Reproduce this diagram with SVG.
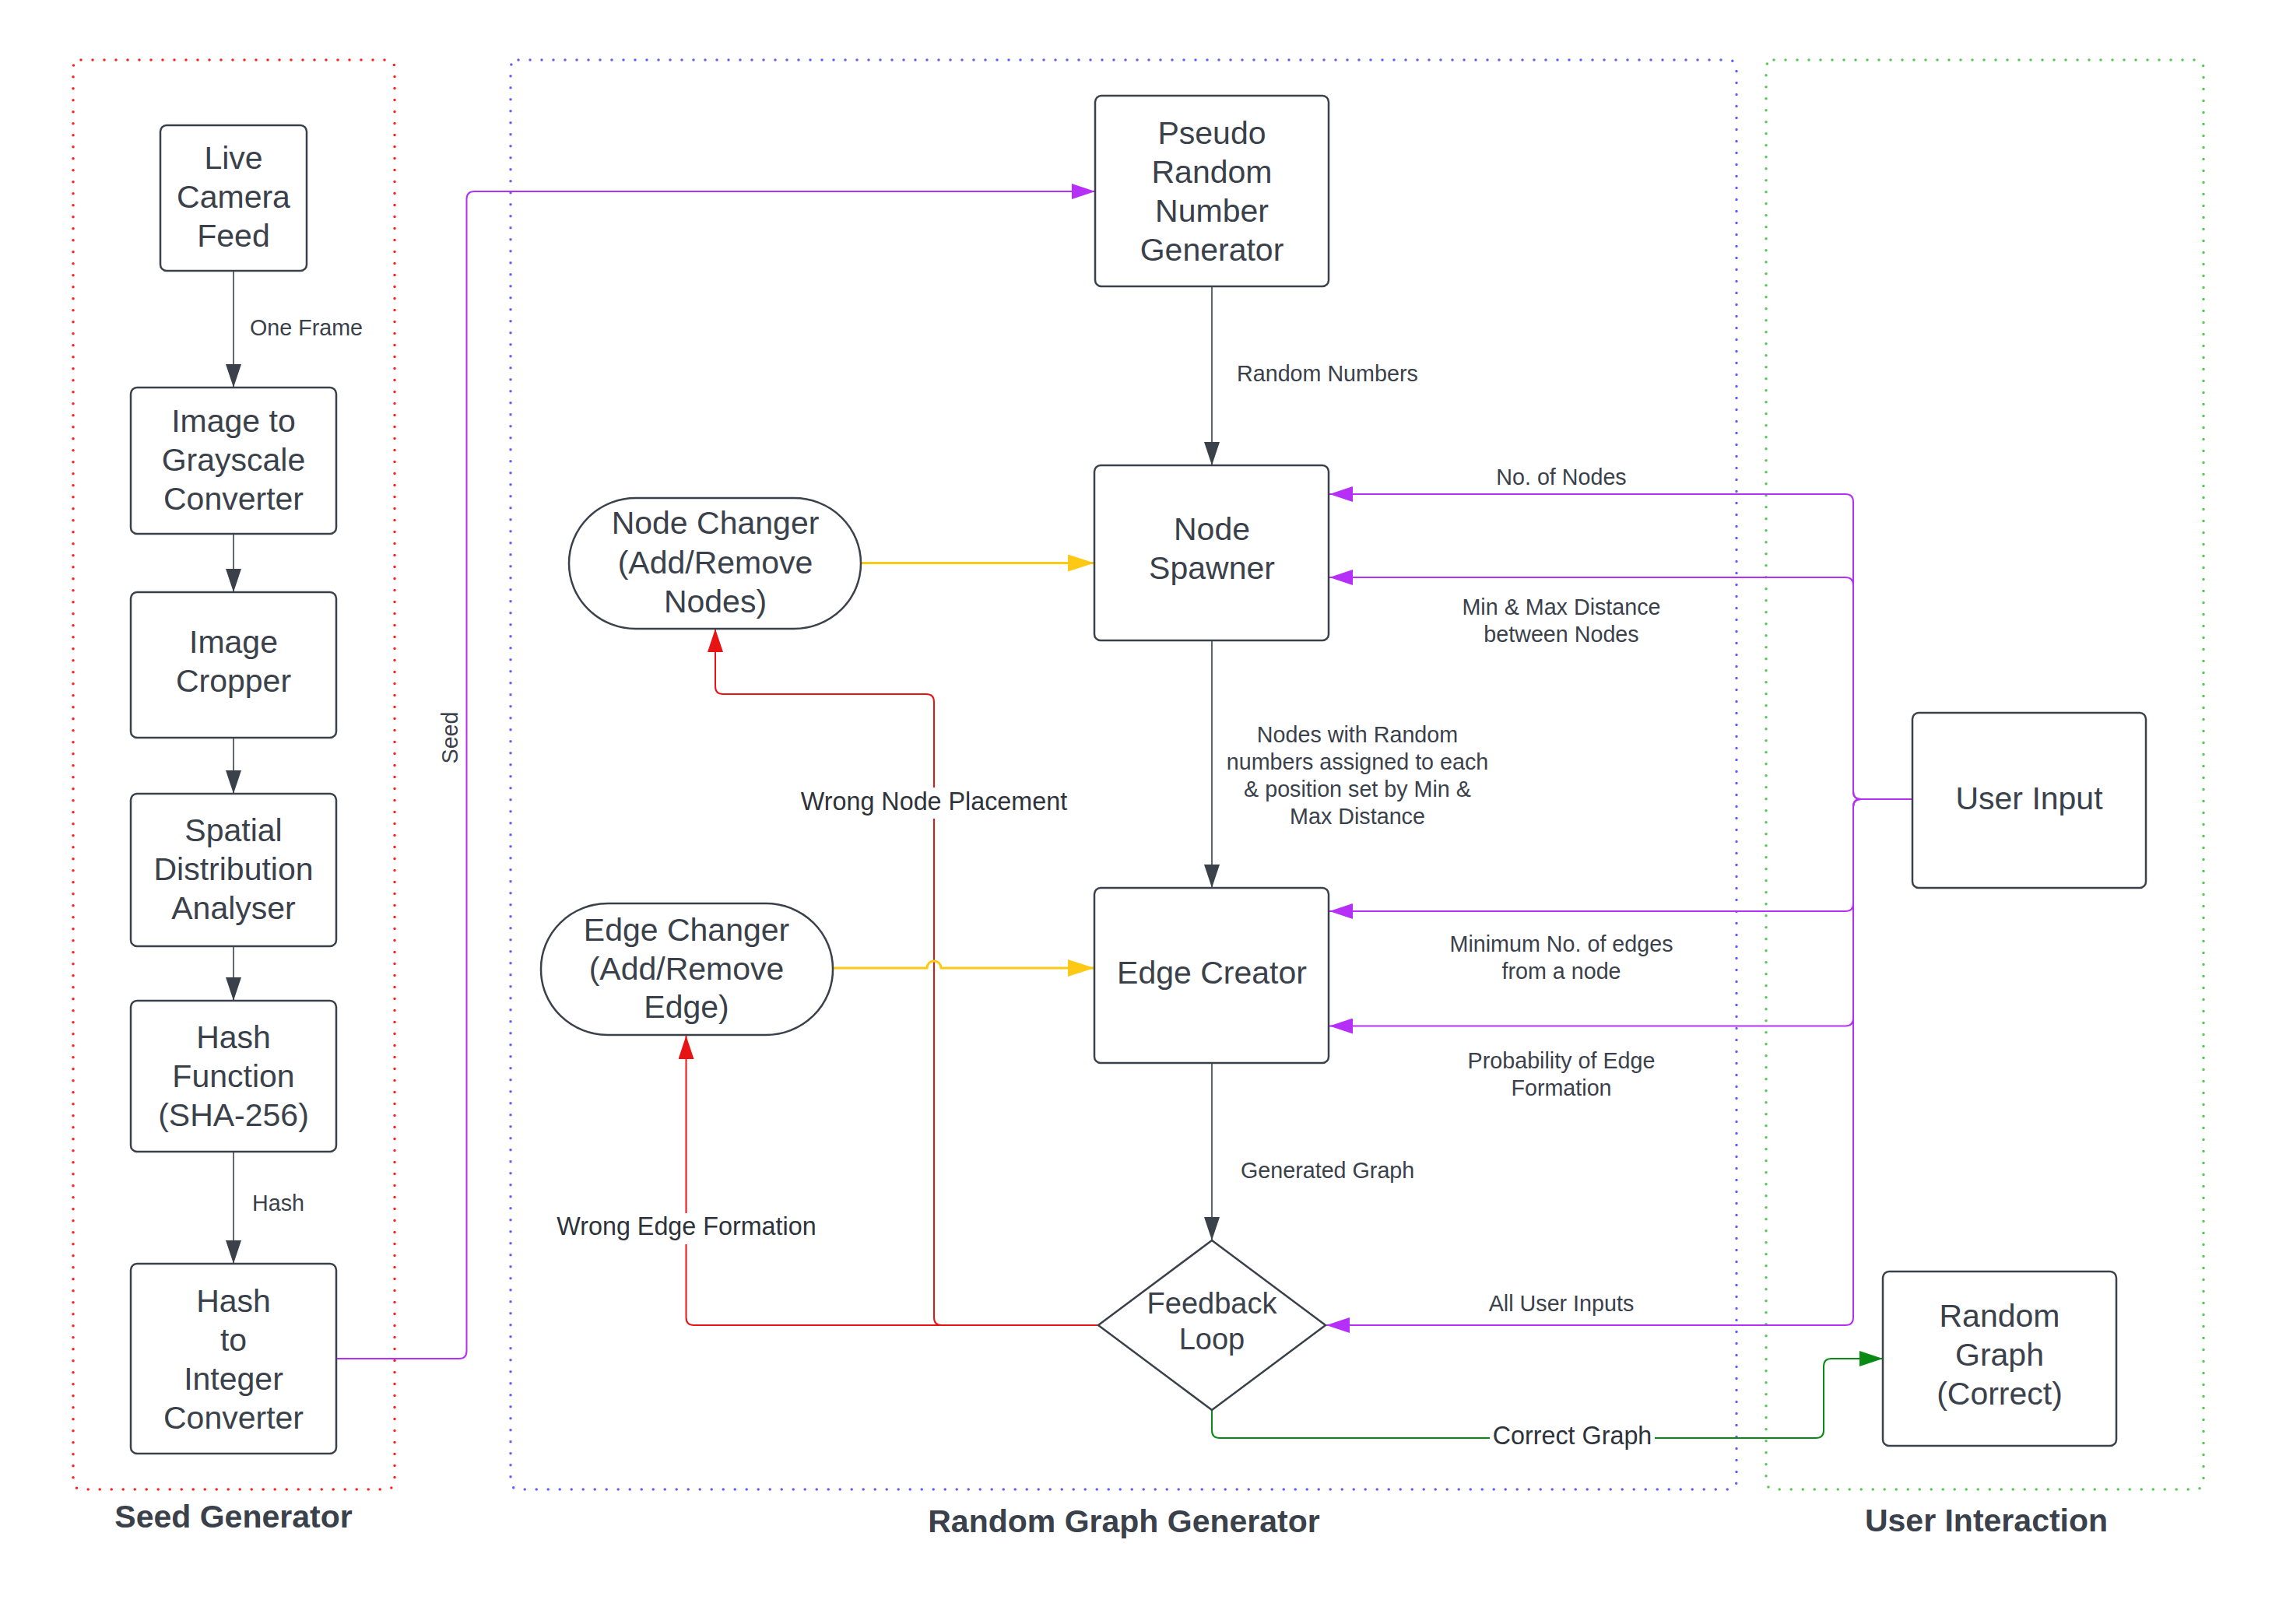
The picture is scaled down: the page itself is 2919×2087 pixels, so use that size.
<svg xmlns="http://www.w3.org/2000/svg" width="2919" height="2087" viewBox="0 0 2919 2087">
<defs>
<style>
.box{fill:#fff;stroke:#3a414a;stroke-width:2.5}
.t{font-family:"Liberation Sans",Arial,sans-serif;font-size:41px;fill:#3a414a;text-anchor:middle}
.l{font-family:"Liberation Sans",Arial,sans-serif;font-size:28.7px;fill:#3a414a}
.lm{font-family:"Liberation Sans",Arial,sans-serif;font-size:28.7px;fill:#3a414a;text-anchor:middle}
.lb{font-family:"Liberation Sans",Arial,sans-serif;font-size:32.3px;fill:#2e333a;text-anchor:middle}
.g{font-family:"Liberation Sans",Arial,sans-serif;font-size:41px;font-weight:bold;fill:#3a414a;text-anchor:middle}
.dark{fill:none;stroke:#3a414a;stroke-width:1.6}
.pur{fill:none;stroke:#b62ff8;stroke-width:2}
.red{fill:none;stroke:#e81414;stroke-width:2}
.yel{fill:none;stroke:#fdc914;stroke-width:3}
.grn{fill:none;stroke:#0a8a14;stroke-width:2}
.dot{fill:none;stroke-width:3.5;stroke-linecap:round;stroke-dasharray:0 15}
</style>
<marker id="aDark" markerWidth="30" markerHeight="20" refX="30" refY="10" orient="auto" markerUnits="userSpaceOnUse"><path d="M0,0 L30,10 L0,20 Z" fill="#3a414a"/></marker>
<marker id="aPur" markerWidth="30" markerHeight="20" refX="30" refY="10" orient="auto" markerUnits="userSpaceOnUse"><path d="M0,0 L30,10 L0,20 Z" fill="#b62ff8"/></marker>
<marker id="aRed" markerWidth="30" markerHeight="20" refX="30" refY="10" orient="auto" markerUnits="userSpaceOnUse"><path d="M0,0 L30,10 L0,20 Z" fill="#e81414"/></marker>
<marker id="aYel" markerWidth="34" markerHeight="22" refX="34" refY="11" orient="auto" markerUnits="userSpaceOnUse"><path d="M0,0 L34,11 L0,22 Z" fill="#fdc914"/></marker>
<marker id="aGrn" markerWidth="30" markerHeight="20" refX="30" refY="10" orient="auto" markerUnits="userSpaceOnUse"><path d="M0,0 L30,10 L0,20 Z" fill="#0a8a14"/></marker>
</defs>
<rect width="2919" height="2087" fill="#fff"/>

<g id="groups">
<rect x="94" y="77" width="413" height="1837" rx="10" class="dot" stroke="#ff2020"/>
<rect x="656" y="77" width="1575" height="1837" rx="10" class="dot" stroke="#6060ff"/>
<rect x="2269" y="77" width="562" height="1837" rx="10" class="dot" stroke="#55c855"/>
<text class="g" x="300" y="1963">Seed Generator</text>
<text class="g" x="1444" y="1969">Random Graph Generator</text>
<text class="g" x="2552" y="1968">User Interaction</text>
</g>

<g id="connectors">
<path class="dark" d="M300,348 V498" marker-end="url(#aDark)"/>
<path class="dark" d="M300,686 V761" marker-end="url(#aDark)"/>
<path class="dark" d="M300,948 V1020" marker-end="url(#aDark)"/>
<path class="dark" d="M300,1216 V1286" marker-end="url(#aDark)"/>
<path class="dark" d="M300,1480 V1624" marker-end="url(#aDark)"/>
<text class="l" x="321" y="431">One Frame</text>
<text class="l" x="324" y="1556">Hash</text>

<path class="pur" d="M432,1746 H590 Q599.5,1746 599.5,1736 V256 Q599.5,246 609.5,246 H1407" marker-end="url(#aPur)"/>
<text class="lm" transform="translate(588,948) rotate(-90)">Seed</text>

<path class="dark" d="M1557,368 V598" marker-end="url(#aDark)"/>
<text class="l" x="1589" y="490">Random Numbers</text>
<path class="dark" d="M1557,823 V1141" marker-end="url(#aDark)"/>
<text class="lm" x="1744" y="954">Nodes with Random</text>
<text class="lm" x="1744" y="989">numbers assigned to each</text>
<text class="lm" x="1744" y="1024">&amp; position set by Min &amp;</text>
<text class="lm" x="1744" y="1059">Max Distance</text>
<path class="dark" d="M1557,1366 V1594" marker-end="url(#aDark)"/>
<text class="l" x="1594" y="1514">Generated Graph</text>

<path class="yel" d="M1106,723.5 H1406" marker-end="url(#aYel)"/>

<path class="red" d="M1411,1703 H1210 Q1200,1703 1200,1693 V902 Q1200,892 1190,892 H929 Q919,892 919,882 V808" marker-end="url(#aRed)"/>
<path class="red" d="M1411,1703 H891.5 Q881.5,1703 881.5,1693 V1331" marker-end="url(#aRed)"/>
<path class="yel" d="M1070,1244 H1191 A9,9 0 0 1 1209,1244 H1406" marker-end="url(#aYel)"/>
<rect x="1022" y="1012" width="356" height="40" fill="#fff"/>
<text class="lb" x="1200" y="1041">Wrong Node Placement</text>
<rect x="708" y="1559" width="348" height="40" fill="#fff"/>
<text class="lb" x="882" y="1587">Wrong Edge Formation</text>

<path class="pur" d="M2457,1027 H2391 Q2381,1027 2381,1017 V645 Q2381,635 2371,635 H1708" marker-end="url(#aPur)"/>
<path class="pur" d="M2457,1027 H2391 Q2381,1027 2381,1017 V752 Q2381,742 2371,742 H1708" marker-end="url(#aPur)"/>
<path class="pur" d="M2457,1027 H2391 Q2381,1027 2381,1037 V1161 Q2381,1171 2371,1171 H1708" marker-end="url(#aPur)"/>
<path class="pur" d="M2457,1027 H2391 Q2381,1027 2381,1037 V1308.5 Q2381,1318.5 2371,1318.5 H1708" marker-end="url(#aPur)"/>
<path class="pur" d="M2457,1027 H2391 Q2381,1027 2381,1037 V1693 Q2381,1703 2371,1703 H1704" marker-end="url(#aPur)"/>
<text class="lm" x="2006" y="623">No. of Nodes</text>
<text class="lm" x="2006" y="790">Min &amp; Max Distance</text>
<text class="lm" x="2006" y="825">between Nodes</text>
<text class="lm" x="2006" y="1223">Minimum No. of edges</text>
<text class="lm" x="2006" y="1258">from a node</text>
<text class="lm" x="2006" y="1373">Probability of Edge</text>
<text class="lm" x="2006" y="1408">Formation</text>
<text class="lm" x="2006" y="1685">All User Inputs</text>

<path class="grn" d="M1557,1812 V1838 Q1557,1848 1567,1848 H2333 Q2343,1848 2343,1838 V1756 Q2343,1746 2353,1746 H2419" marker-end="url(#aGrn)"/>
<rect x="1914" y="1826" width="212" height="40" fill="#fff"/>
<text class="lb" x="2020" y="1856">Correct Graph</text>
</g>

<g id="live-camera-feed">
<rect class="box" x="206" y="161" width="188" height="187" rx="8"/>
<text class="t" x="300" y="217">Live</text>
<text class="t" x="300" y="267">Camera</text>
<text class="t" x="300" y="317">Feed</text>
</g>
<g id="grayscale-converter">
<rect class="box" x="168" y="498" width="264" height="188" rx="8"/>
<text class="t" x="300" y="555">Image to</text>
<text class="t" x="300" y="605">Grayscale</text>
<text class="t" x="300" y="655">Converter</text>
</g>
<g id="image-cropper">
<rect class="box" x="168" y="761" width="264" height="187" rx="8"/>
<text class="t" x="300" y="839">Image</text>
<text class="t" x="300" y="889">Cropper</text>
</g>
<g id="spatial-analyser">
<rect class="box" x="168" y="1020" width="264" height="196" rx="8"/>
<text class="t" x="300" y="1081">Spatial</text>
<text class="t" x="300" y="1131">Distribution</text>
<text class="t" x="300" y="1181">Analyser</text>
</g>
<g id="hash-function">
<rect class="box" x="168" y="1286" width="264" height="194" rx="8"/>
<text class="t" x="300" y="1347">Hash</text>
<text class="t" x="300" y="1397">Function</text>
<text class="t" x="300" y="1447">(SHA-256)</text>
</g>
<g id="hash-to-integer">
<rect class="box" x="168" y="1624" width="264" height="244" rx="8"/>
<text class="t" x="300" y="1686">Hash</text>
<text class="t" x="300" y="1736">to</text>
<text class="t" x="300" y="1786">Integer</text>
<text class="t" x="300" y="1836">Converter</text>
</g>
<g id="prng">
<rect class="box" x="1407" y="123" width="300" height="245" rx="8"/>
<text class="t" x="1557" y="185">Pseudo</text>
<text class="t" x="1557" y="235">Random</text>
<text class="t" x="1557" y="285">Number</text>
<text class="t" x="1557" y="335">Generator</text>
</g>
<g id="node-spawner">
<rect class="box" x="1406" y="598" width="301" height="225" rx="8"/>
<text class="t" x="1557" y="694">Node</text>
<text class="t" x="1557" y="744">Spawner</text>
</g>
<g id="node-changer">
<rect class="box" x="731" y="640" width="375" height="168" rx="86" ry="84"/>
<text class="t" x="919" y="686">Node Changer</text>
<text class="t" x="919" y="737">(Add/Remove</text>
<text class="t" x="919" y="787">Nodes)</text>
</g>
<g id="edge-changer">
<rect class="box" x="695" y="1161" width="375" height="169" rx="86" ry="84"/>
<text class="t" x="882" y="1209">Edge Changer</text>
<text class="t" x="882" y="1259">(Add/Remove</text>
<text class="t" x="882" y="1308">Edge)</text>
</g>
<g id="edge-creator">
<rect class="box" x="1406" y="1141" width="301" height="225" rx="8"/>
<text class="t" x="1557" y="1264">Edge Creator</text>
</g>
<g id="feedback-loop">
<path class="box" stroke-linejoin="round" d="M1557,1594 L1703,1703 L1557,1812 L1411,1703 Z"/>
<text class="t" x="1557" y="1688" style="font-size:38px">Feedback</text>
<text class="t" x="1557" y="1734" style="font-size:38px">Loop</text>
</g>
<g id="user-input">
<rect class="box" x="2457" y="916" width="300" height="225" rx="8"/>
<text class="t" x="2607" y="1040">User Input</text>
</g>
<g id="random-graph">
<rect class="box" x="2419" y="1634" width="300" height="224" rx="8"/>
<text class="t" x="2569" y="1705">Random</text>
<text class="t" x="2569" y="1755">Graph</text>
<text class="t" x="2569" y="1805">(Correct)</text>
</g>
</svg>
